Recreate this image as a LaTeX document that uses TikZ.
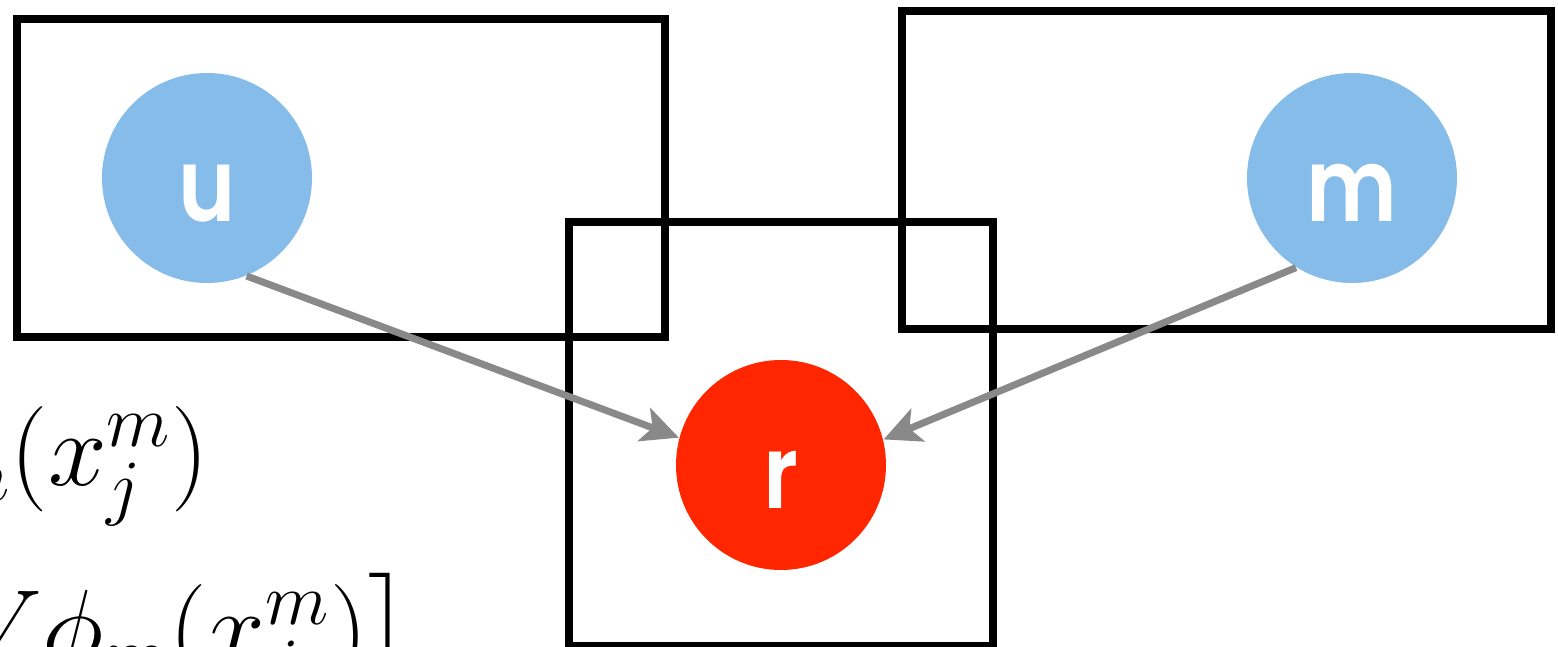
\RequirePackage{fix-cm}
\documentclass[tikz,border=0pt]{standalone}
\usepackage{amsmath}
\usepackage{amssymb}
\usepackage{fontspec}
\newfontfamily\circfont{Poppins SemiBold}[FakeStretch=0.85]
\usetikzlibrary{arrows.meta}

\definecolor{varblue}{HTML}{86BCE9}
\definecolor{obsred}{HTML}{FF2600}
\definecolor{edgegray}{HTML}{898989}

\begin{document}
\begin{tikzpicture}[var/.style={circle, fill=varblue, minimum size=2.1cm, inner sep=0pt, text=white, font=\circfont\fontsize{29}{29}\selectfont, text height=0.87cm, text depth=0pt},
		obs/.style={var, fill=obsred},
		plate/.style={draw=black, line width=2.2pt},
		every edge/.style={draw=edgegray, line width=2pt, -{Stealth[length=0.37cm, width=0.35cm, inset=0.09cm]}},
		formula/.style={anchor=base east, inner sep=0pt, font=\fontsize{30}{36}\selectfont}]
				\useasboundingbox (0,0) rectangle (15.58,6.46);
				\clip (0,0) rectangle (15.58,6.46);
				
				\draw[plate] (0.17,6.27) rectangle (6.65,3.09);
				\draw[plate] (9.02,6.35) rectangle (15.51,3.17);
				\draw[plate] (5.69,0) rectangle (9.93,4.24);
				
				\node[var] (u) at (2.07,4.68){u};
				\node[var] (m) at (13.52,4.68){m};
				\node[obs] (r) at (7.81,1.81){r};
				
				\node[formula] (rowm) at (2.10,1.61){$\phi_m(x_j^m)$};
				\node[formula] (rowv) at (4.12,-0.17){$V\phi_m(x_j^m)\big]$};
				
				\path (u.-68) edge (r.165);
				\path (m.-122) edge (r.14);
				\end{tikzpicture}
\end{document}
